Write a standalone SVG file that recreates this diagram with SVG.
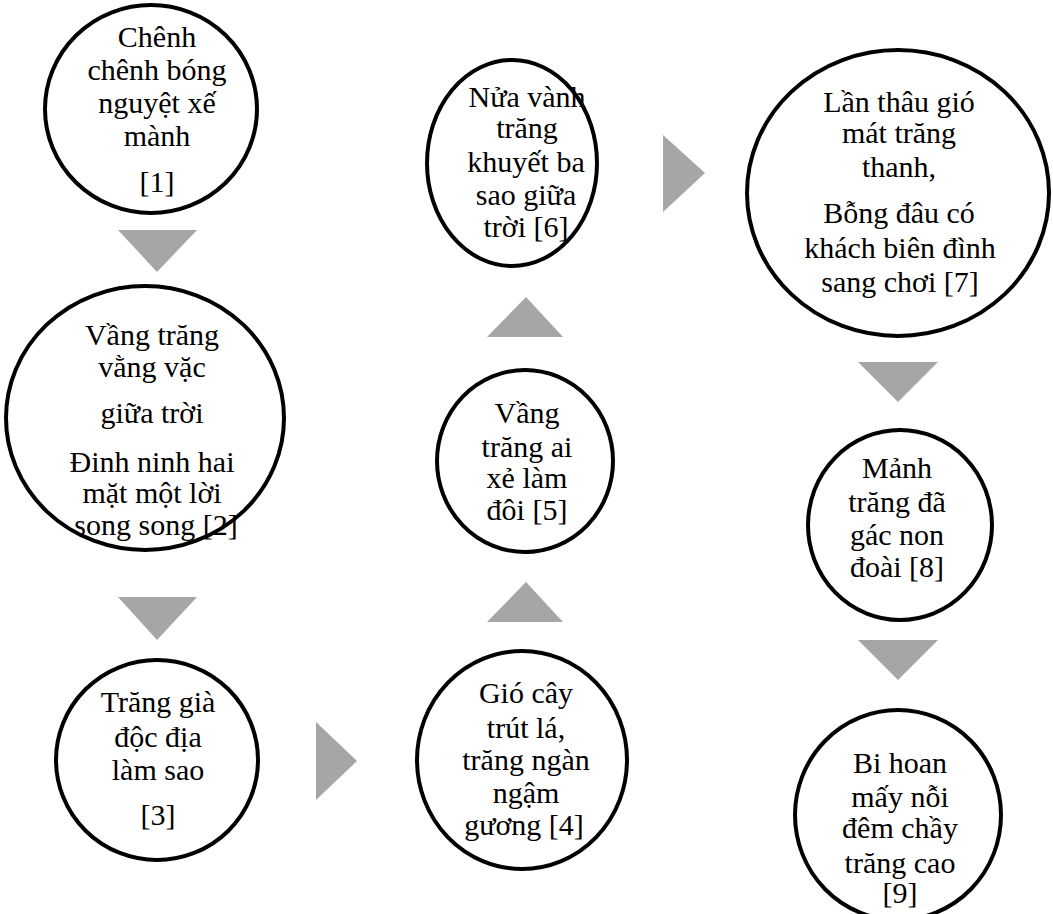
<svg xmlns="http://www.w3.org/2000/svg" width="1053" height="914" viewBox="0 0 1053 914">
<style>
.node ellipse{fill:#fff;stroke:#000;stroke-width:4}
.node text{font-family:"Liberation Serif","Times New Roman",serif;font-size:30px;fill:#000;text-anchor:middle}
.arrow{fill:#a6a6a6}
</style>
<rect width="1053" height="914" fill="#fff"/>
<g id="connectors">
<polygon class="arrow" points="118,230 197,230 157,272"/>
<polygon class="arrow" points="118,597 197,597 157,640"/>
<polygon class="arrow" points="316,722 316,800 357,761"/>
<polygon class="arrow" points="487,622 563,622 526,582"/>
<polygon class="arrow" points="487,337 563,337 526,297"/>
<polygon class="arrow" points="663,135 663,212 705,173"/>
<polygon class="arrow" points="858,362 938,362 898,402"/>
<polygon class="arrow" points="858,640 938,640 898,680"/>
</g>
<g id="n1" class="node">
<ellipse cx="151" cy="109" rx="106" ry="104"/>
<text x="157" y="47">Chênh</text>
<text x="157" y="80">chênh bóng</text>
<text x="157" y="113">nguyệt xế</text>
<text x="157" y="146">mành</text>
<text x="157" y="192">[1]</text>
</g>
<g id="n2" class="node">
<ellipse cx="145" cy="418" rx="139" ry="132"/>
<text x="152" y="345">Vầng trăng</text>
<text x="152" y="377">vằng vặc</text>
<text x="152" y="423">giữa trời</text>
<text x="152" y="472">Đinh ninh hai</text>
<text x="152" y="503">mặt một lời</text>
<text x="156" y="535">song song [2]</text>
</g>
<g id="n3" class="node">
<ellipse cx="157" cy="760" rx="101" ry="100"/>
<text x="158" y="712">Trăng già</text>
<text x="158" y="747">độc địa</text>
<text x="158" y="780">làm sao</text>
<text x="158" y="825">[3]</text>
</g>
<g id="n4" class="node">
<ellipse cx="522" cy="760" rx="105" ry="109"/>
<text x="526" y="703">Gió cây</text>
<text x="526" y="738">trút lá,</text>
<text x="526" y="770">trăng ngàn</text>
<text x="526" y="803">ngậm</text>
<text x="524" y="835">gương [4]</text>
</g>
<g id="n5" class="node">
<ellipse cx="525" cy="461" rx="88" ry="91"/>
<text x="527" y="423">Vầng</text>
<text x="527" y="457">trăng ai</text>
<text x="527" y="488">xẻ làm</text>
<text x="527" y="520">đôi [5]</text>
</g>
<g id="n6" class="node">
<ellipse cx="512" cy="163" rx="85" ry="103"/>
<text x="527" y="107">Nửa vành</text>
<text x="527" y="138">trăng</text>
<text x="526" y="172">khuyết ba</text>
<text x="526" y="205">sao giữa</text>
<text x="526" y="237">trời [6]</text>
</g>
<g id="n7" class="node">
<ellipse cx="898" cy="193" rx="151" ry="143"/>
<text x="899" y="112">Lần thâu gió</text>
<text x="899" y="143">mát trăng</text>
<text x="899" y="177">thanh,</text>
<text x="899" y="223">Bỗng đâu có</text>
<text x="900" y="258">khách biên đình</text>
<text x="900" y="292">sang chơi [7]</text>
</g>
<g id="n8" class="node">
<ellipse cx="900" cy="525" rx="92" ry="95"/>
<text x="897" y="478">Mảnh</text>
<text x="897" y="512">trăng đã</text>
<text x="897" y="545">gác non</text>
<text x="897" y="577">đoài [8]</text>
</g>
<g id="n9" class="node">
<ellipse cx="898" cy="815" rx="103" ry="105"/>
<text x="900" y="773">Bi hoan</text>
<text x="900" y="807">mấy nỗi</text>
<text x="900" y="838">đêm chầy</text>
<text x="900" y="873">trăng cao</text>
<text x="900" y="903">[9]</text>
</g>
</svg>
